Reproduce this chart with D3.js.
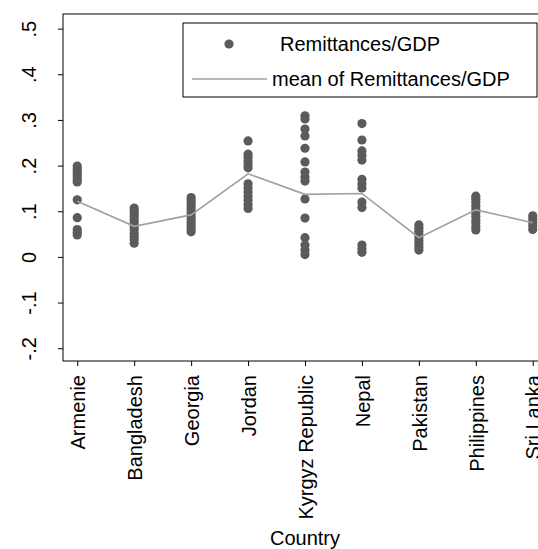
<!DOCTYPE html>
<html>
<head>
<meta charset="utf-8">
<script src="https://cdn.jsdelivr.net/npm/d3@7"></script>
<style>
  html, body { margin: 0; padding: 0; background: #fff; }
  svg { display: block; font-family: "Liberation Sans", Arial, sans-serif; }
</style>
</head>
<body>
<svg id="chart" width="538" height="549"></svg>
<script>
// ---- data ----
const countries = ["Armenie", "Bangladesh", "Georgia", "Jordan", "Kyrgyz Republic", "Nepal", "Pakistan", "Philippines", "Sri Lanka"];
const armenie     = [0.199, 0.193, 0.187, 0.181, 0.175, 0.169, 0.164, 0.125, 0.086, 0.060, 0.054, 0.048];
const bangladesh  = [0.107, 0.101, 0.095, 0.088, 0.081, 0.074, 0.067, 0.060, 0.052, 0.045, 0.038, 0.030];
const georgia     = [0.130, 0.124, 0.117, 0.110, 0.103, 0.096, 0.089, 0.082, 0.075, 0.068, 0.061, 0.055];
const jordan      = [0.254, 0.225, 0.218, 0.210, 0.202, 0.195, 0.160, 0.151, 0.142, 0.133, 0.124, 0.115, 0.106];
const kyrgyz      = [0.309, 0.302, 0.280, 0.265, 0.238, 0.208, 0.186, 0.175, 0.166, 0.127, 0.085, 0.042, 0.026, 0.015, 0.005];
const nepal       = [0.292, 0.256, 0.232, 0.222, 0.212, 0.170, 0.160, 0.151, 0.120, 0.108, 0.026, 0.018, 0.010];
const pakistan    = [0.070, 0.063, 0.056, 0.049, 0.042, 0.035, 0.028, 0.021, 0.015];
const philippines = [0.133, 0.126, 0.119, 0.111, 0.104, 0.096, 0.089, 0.081, 0.074, 0.066, 0.059];
const sriLanka    = [0.090, 0.083, 0.076, 0.068, 0.060];
const seriesValues = [armenie, bangladesh, georgia, jordan, kyrgyz, nepal, pakistan, philippines, sriLanka];
const meanValues  = [0.122, 0.067, 0.092, 0.182, 0.137, 0.139, 0.042, 0.103, 0.075];
const yTicks      = [-0.2, -0.1, 0, 0.1, 0.2, 0.3, 0.4, 0.5];
const yTickLabels = ["-.2", "-.1", "0", ".1", ".2", ".3", ".4", ".5"];
const legendLabels = ["Remittances/GDP", "mean of Remittances/GDP"];
const xTitle = "Country";

// ---- layout ----
const svg = d3.select("#chart");
const pLeft = 63, pRight = 547, pTop = 14, pBottom = 361;
const dotColor = "#5b5b5b", lineColor = "#a0a0a0";
const fs = 20;

const x = d3.scaleLinear().domain([0.75, countries.length + 0.25]).range([pLeft, pRight]);
const y = d3.scaleLinear().domain([-0.228, 0.532]).range([pBottom, pTop]);

// frame
svg.append("rect").attr("x", pLeft).attr("y", pTop)
  .attr("width", pRight - pLeft).attr("height", pBottom - pTop)
  .attr("fill", "none").attr("stroke", "#000").attr("stroke-width", 1);

// y axis
const yAxis = d3.axisLeft(y).tickValues(yTicks).tickSize(5).tickFormat("");
const gy = svg.append("g").attr("transform", `translate(${pLeft},0)`).call(yAxis);
gy.select(".domain").remove();
gy.selectAll(".tick line").attr("stroke", "#000");
gy.selectAll(".tick").append("text")
  .attr("transform", "translate(-27,0) rotate(-90)")
  .attr("text-anchor", "middle")
  .attr("fill", "#000")
  .attr("font-size", fs)
  .text((d, i) => yTickLabels[i]);

// x axis
const xAxis = d3.axisBottom(x).tickValues(d3.range(1, countries.length + 1)).tickSize(5).tickFormat("");
const gx = svg.append("g").attr("transform", `translate(0,${pBottom})`).call(xAxis);
gx.select(".domain").remove();
gx.selectAll(".tick line").attr("stroke", "#000");
gx.selectAll(".tick").append("text")
  .attr("transform", "translate(0,14) rotate(-90)")
  .attr("text-anchor", "end")
  .attr("dy", "0.36em")
  .attr("fill", "#000")
  .attr("font-size", fs)
  .text((d, i) => countries[i]);

svg.append("text").attr("x", (pLeft + pRight) / 2).attr("y", 545)
  .attr("text-anchor", "middle").attr("font-size", fs).attr("fill", "#000")
  .text(xTitle);

// points
const pts = [];
seriesValues.forEach((vals, i) => vals.forEach(v => pts.push({ c: i + 1, v })));
svg.append("g").selectAll("circle").data(pts).join("circle")
  .attr("cx", d => x(d.c)).attr("cy", d => y(d.v)).attr("r", 4.6)
  .attr("fill", dotColor);

// mean line
const line = d3.line().x((d, i) => x(i + 1)).y(d => y(d));
svg.append("path").datum(meanValues).attr("d", line)
  .attr("fill", "none").attr("stroke", lineColor).attr("stroke-width", 1.6);

// legend
const lg = svg.append("g");
lg.append("rect").attr("x", 183).attr("y", 23).attr("width", 354).attr("height", 74)
  .attr("fill", "#fff").attr("stroke", "#000").attr("stroke-width", 1);
lg.append("circle").attr("cx", 229).attr("cy", 44).attr("r", 4.6).attr("fill", dotColor);
lg.append("line").attr("x1", 192).attr("x2", 267).attr("y1", 79).attr("y2", 79)
  .attr("stroke", lineColor).attr("stroke-width", 1.6);
lg.append("text").attr("x", 280).attr("y", 44).attr("dy", "0.36em")
  .attr("font-size", fs).attr("fill", "#000").text(legendLabels[0]);
lg.append("text").attr("x", 272).attr("y", 79).attr("dy", "0.36em")
  .attr("font-size", fs).attr("fill", "#000").text(legendLabels[1]);
</script>
</body>
</html>
